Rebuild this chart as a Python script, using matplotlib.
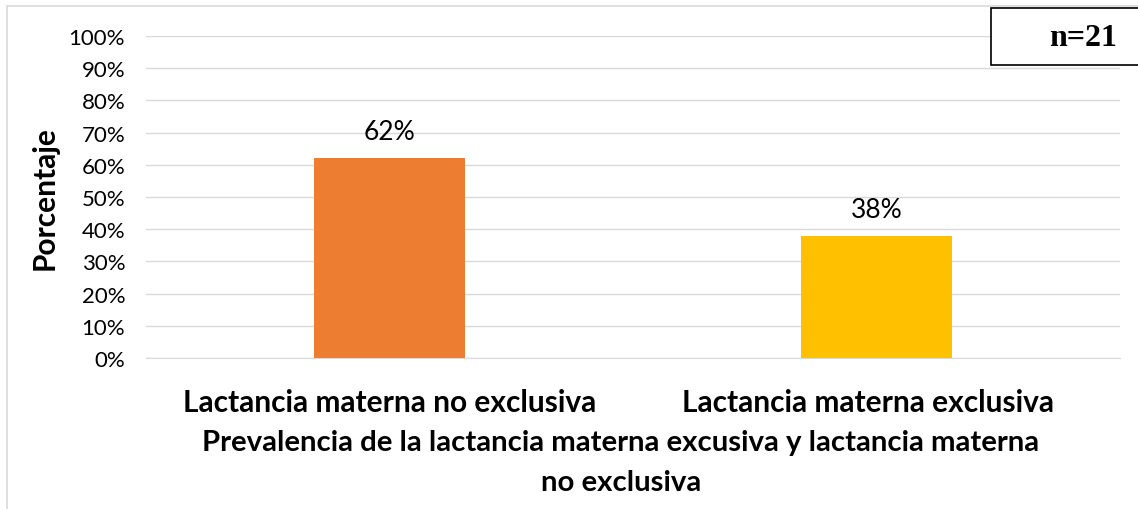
import matplotlib
matplotlib.use("Agg")
import matplotlib.pyplot as plt
import matplotlib.transforms as mtransforms
from matplotlib.patches import Rectangle
from matplotlib.ticker import PercentFormatter

categories = ["Lactancia materna no exclusiva", "Lactancia materna exclusiva"]
values = [62, 38]
bar_colors = ["#ED7D31", "#FFC000"]
yticks = list(range(0, 101, 10))

plt.rcParams['font.family'] = ['Lato', 'DejaVu Sans']

fig = plt.figure(figsize=(11.38, 5.10), dpi=100)
ax = fig.add_axes([146/1138, 1-359/510, (1120-146)/1138, (359-37)/510])

x = list(range(len(categories)))
bars = ax.bar(x, values, width=0.31, color=bar_colors, zorder=3)
for xi, v in zip(x, values):
    ax.annotate(f"{v}%", (xi, v), xytext=(0, 19), textcoords="offset points",
                ha="center", va="center", fontsize=19, color="#000000")

ax.set_xlim(-0.5, 1.5)
ax.set_ylim(0, 100)
ax.set_yticks(yticks)
ax.yaxis.set_major_formatter(PercentFormatter(decimals=0))
ax.tick_params(axis="y", length=0, labelsize=16, pad=15)
ax.set_xticks(x)
ax.set_xticklabels(categories, fontsize=21.5, fontweight="bold")
ax.tick_params(axis="x", length=0, pad=21.5)
# second category label sits slightly left of centre in the reference
lbl = ax.get_xticklabels()[1]
lbl.set_transform(lbl.get_transform() + mtransforms.ScaledTranslation(-8/100, 0, fig.dpi_scale_trans))
ax.grid(axis="y", color="#D9D9D9", linewidth=1, zorder=0)
for s in ["top", "right", "left"]:
    ax.spines[s].set_visible(False)
ax.spines["bottom"].set_color("#D9D9D9")

fig.text(45/1138, 1-198/510, "Porcentaje", rotation=90, ha="center", va="center",
         fontsize=21.5, fontweight="bold")
fig.text(621/1138, 1-463/510,
         "Prevalencia de la lactancia materna excusiva y lactancia materna\nno exclusiva",
         ha="center", va="center", fontsize=21.2, fontweight="bold", linespacing=1.65)

# outer chart border
fig.patches.append(Rectangle((7/1138, -0.1), 1.2, 1.1 - 7/510, transform=fig.transFigure,
                             fill=False, edgecolor="#D9D9D9", linewidth=1.2))
# n=21 box
fig.patches.append(Rectangle((991/1138, 1-66/510), 0.2, (66-9)/510, transform=fig.transFigure,
                             facecolor="white", edgecolor="black", linewidth=1.2, zorder=5))
fig.text(1083/1138, 1-38/510, "n=21", ha="center", va="center", fontsize=23,
         fontweight="bold", family="Liberation Serif", zorder=6)

fig.savefig("out.png", dpi=100)
